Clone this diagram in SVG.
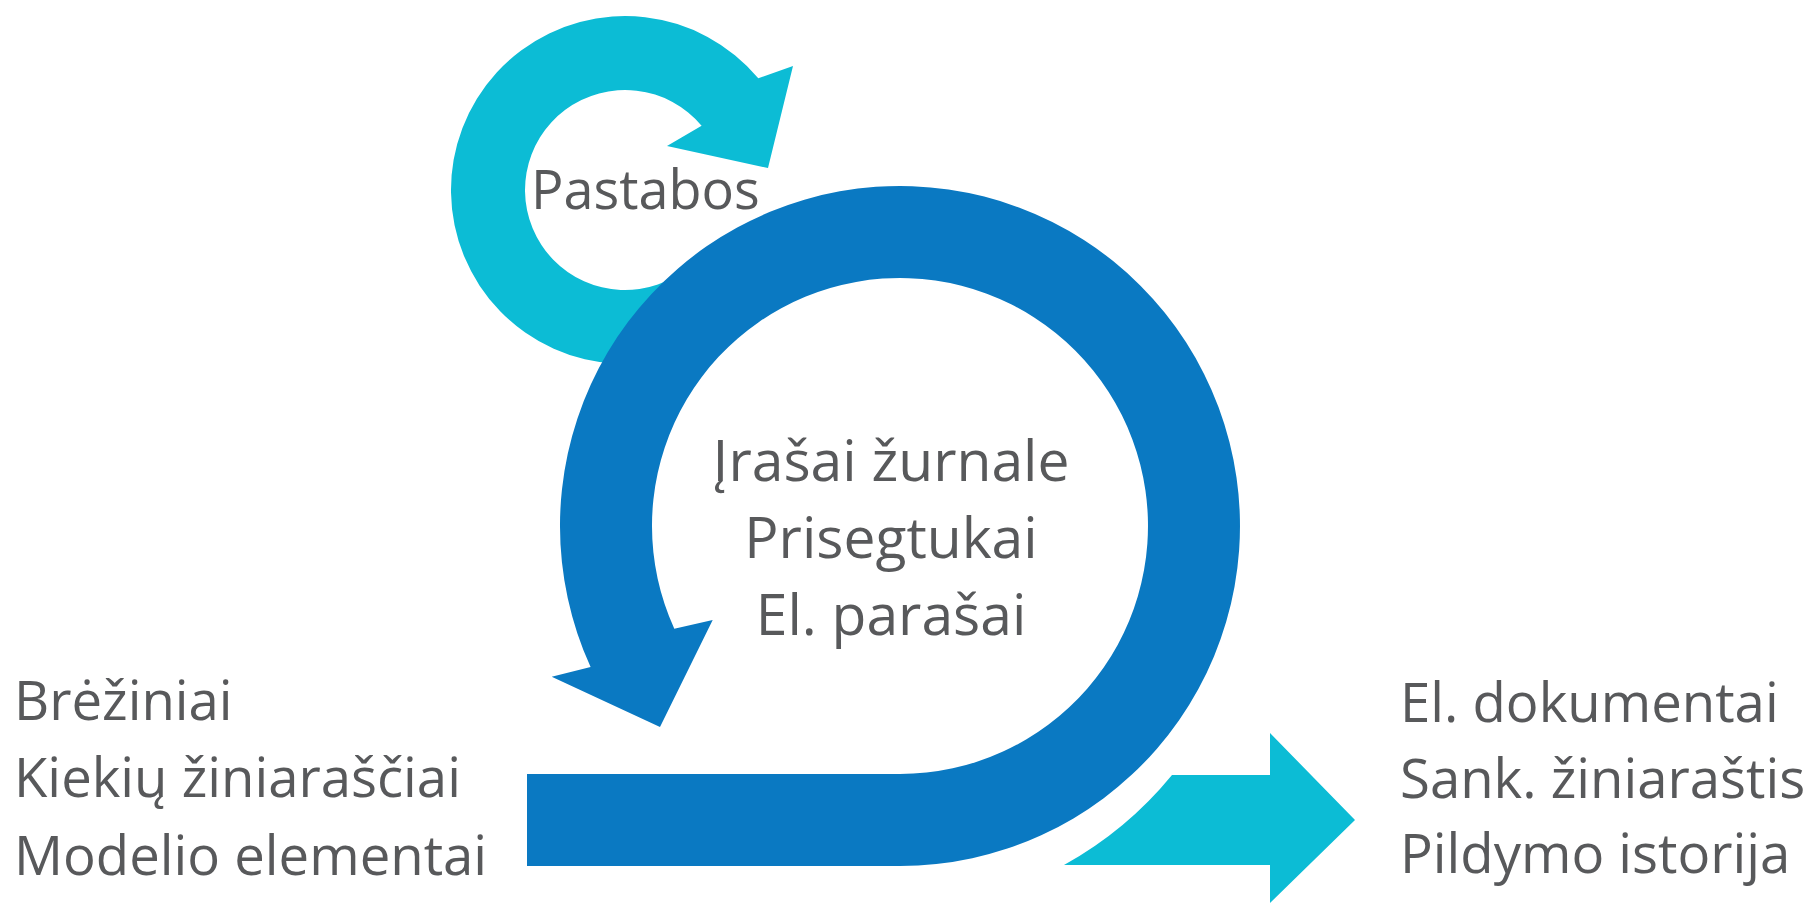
<svg xmlns="http://www.w3.org/2000/svg" width="1810" height="905" viewBox="0 0 1810 905">
  <style>
    .lbl { font-family: "Open Sans", "Noto Sans", "Liberation Sans", sans-serif; font-size: 54.5px; fill: #58595b; }
    .big { font-size: 57px; }
    .mid { text-anchor: middle; }
    .blue { fill: #0a79c2; }
    .cyan { fill: #0cbcd5; }
  </style>
  <rect width="1810" height="905" fill="#ffffff"/>
  <g id="connectors">
    <path id="feedback-loop" class="cyan" d="M 675 276.6 A 100 100 0 1 1 701.6 125.7 L 667 146 L 768 168 L 793 66 L 758.3 78.2 A 174 174 0 1 0 712 340.7 Z"/>
    <path id="main-loop" class="blue" d="M 527 774 L 900 774 A 248 248 0 1 0 674.3 628.8 L 712.7 620 L 660 727 L 551.7 676.7 L 590.6 667 A 340 340 0 1 1 900 866 L 527 866 Z"/>
    <path id="output-arrow" class="cyan" d="M 1064 865 A 372 372 0 0 0 1172 775 L 1270 775 L 1270 733 L 1355 820 L 1270 903 L 1270 865 Z"/>
  </g>
  <g id="node-feedback">
    <text class="lbl" x="531" y="209" style="font-size:54px">Pastabos</text>
  </g>
  <g id="node-center">
    <text class="lbl big mid" x="891" y="481">Įrašai žurnale</text>
    <text class="lbl big mid" x="891" y="558">Prisegtukai</text>
    <text class="lbl big mid" x="891" y="635">El. parašai</text>
  </g>
  <g id="node-inputs">
    <text class="lbl" x="14" y="720">Brėžiniai</text>
    <text class="lbl" x="14" y="797">Kiekių žiniaraščiai</text>
    <text class="lbl" x="14" y="875">Modelio elementai</text>
  </g>
  <g id="node-outputs">
    <text class="lbl" x="1400" y="722">El. dokumentai</text>
    <text class="lbl" x="1400" y="798">Sank. žiniaraštis</text>
    <text class="lbl" x="1400" y="873">Pildymo istorija</text>
  </g>
</svg>
